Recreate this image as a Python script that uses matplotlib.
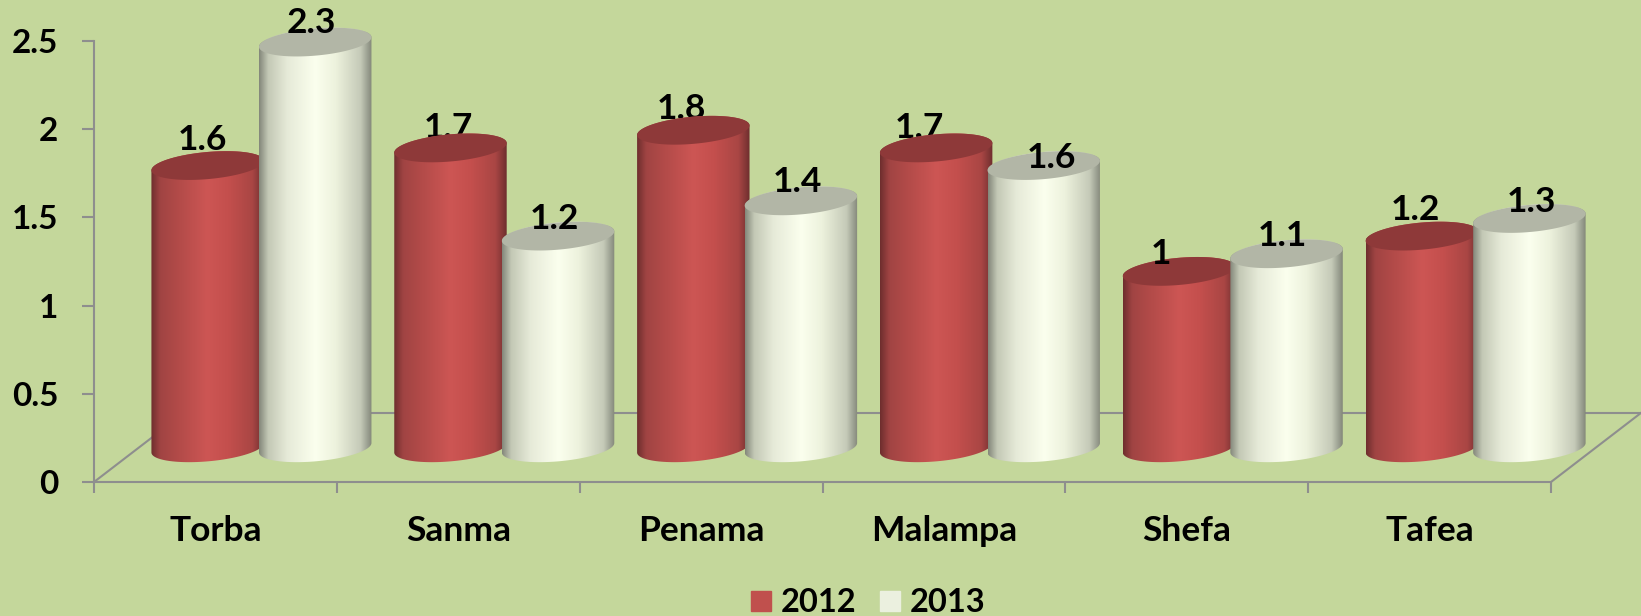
"""Torba to Tafea, 2012 vs 2013, as a 3D looking cylinder chart"""

import numpy as np
from matplotlib import pyplot as plt
from matplotlib.patches import Patch, PathPatch
from matplotlib.path import Path

provinces = ["Torba", "Sanma", "Penama", "Malampa", "Shefa", "Tafea"]
years = ["2012", "2013"]
values_2012 = [1.6, 1.7, 1.8, 1.7, 1, 1.2]
values_2013 = [2.3, 1.2, 1.4, 1.6, 1.1, 1.3]
y_ticks = [0, 0.5, 1, 1.5, 2, 2.5]
y_tick_labels = ["0", "0.5", "1", "1.5", "2", "2.5"]

BACKGROUND = "#C4D79B"
AXIS_COLOR = "#8E8E8E"
RED_STOPS = ["#6E2E2E", "#A04443", "#B34B49", "#CD5654", "#C44F4D", "#A94644", "#6E2E2E"]
WHITE_STOPS = ["#83877A", "#C3C8B5", "#E6EAD8", "#FBFFEE", "#EDF2DD", "#C5CAB8", "#83877A"]
STOP_POS = [0.0, 0.08, 0.25, 0.5, 0.68, 0.9, 1.0]

# floor depth, in data units
DEPTH_X = 0.37
DEPTH_Y = 0.391
BASE_Y = 0.194

# cylinder shape, in data units
RADIUS = 0.2315
MINOR = 0.077
TILT = 0.027
OFFSETS = [0.468, 0.911]

# data labels are not placed evenly in the original, nudges in points
LABEL_NUDGES = [
    [(-1, 2), (1.5, -2), (-6, -1), (-9, -2), (-10.5, -4), (-2, 2)],
    [(0, -3), (0, -4), (0, -3), (8, -11), (0, -4), (4.5, -4.5)],
]
# these three are cut off by the top of their own bar
LABELS_BEHIND = [(1, 0), (2, 0), (3, 0)]

plt.rcParams["font.family"] = ["Lato", "DejaVu Sans"]
plt.rcParams["font.weight"] = "bold"


def hex_ramp(stops):
    """Horizontal colour ramp from hex stops, shape (1, 256, 3)"""
    rgb = np.array([[int(c[i : i + 2], 16) / 255 for i in (1, 3, 5)] for c in stops])
    pos = np.linspace(0, 1, 256)
    return np.stack([np.interp(pos, STOP_POS, rgb[:, k]) for k in range(3)], axis=1)[
        None, :, :
    ]


def ellipse(center_x, center_y, angles):
    """Points on a tilted ellipse"""
    return (
        center_x + RADIUS * np.cos(angles),
        center_y + MINOR * np.sin(angles) + TILT * np.cos(angles),
    )


def plot_cylinder(axis, center_x, value, stops, top_color, zorder):
    """Draw one cylinder, standing on the floor, with a gradient body"""
    top_y = BASE_Y + value
    upper = ellipse(center_x, top_y, np.linspace(np.pi, 0, 60))
    lower = ellipse(center_x, BASE_Y, np.linspace(0, -np.pi, 60))
    outline = np.column_stack(
        [np.hstack([upper[0], lower[0]]), np.hstack([upper[1], lower[1]])]
    )
    image = axis.imshow(
        hex_ramp(stops),
        extent=(center_x - RADIUS, center_x + RADIUS, 0, top_y + MINOR + TILT),
        aspect="auto",
        interpolation="bilinear",
        zorder=zorder,
    )
    # the last bar runs past the right edge of the axes
    image.set_clip_box(axis.get_figure().bbox)
    image.set_clip_path(
        PathPatch(Path(np.vstack([outline, outline[:1]])), transform=axis.transData)
    )
    axis.fill(
        *ellipse(center_x, top_y, np.linspace(0, 2 * np.pi, 120)),
        color=top_color,
        lw=0,
        zorder=zorder + 0.1,
        clip_on=False,
    )


fig = plt.figure(figsize=(16.41, 6.16), dpi=100, facecolor=BACKGROUND)
axis = fig.add_axes([94 / 1641, (616 - 482) / 616, (1551 - 94) / 1641, 441 / 616])
axis.patch.set_alpha(0)

series = [
    (values_2012, RED_STOPS, "#8E3939"),
    (values_2013, WHITE_STOPS, "#B2B6A6"),
]
for i, province in enumerate(provinces):
    for j, (values, stops, top_color) in enumerate(series):
        center_x = i + OFFSETS[j]
        zorder = 5 + 2 * i + j
        plot_cylinder(axis, center_x, values[i], stops, top_color, zorder)
        axis.annotate(
            f"{values[i]:g}",
            (center_x - 0.016, BASE_Y + values[i] + 0.13),
            xytext=LABEL_NUDGES[j][i],
            textcoords="offset points",
            ha="center",
            va="center",
            fontsize=25.5,
            color="black",
            zorder=4 if (i, j) in LABELS_BEHIND else 30,
            annotation_clip=False,
        )

# floor outline
axis.plot([0, DEPTH_X], [0, DEPTH_Y], color=AXIS_COLOR, lw=1.5, zorder=1)
axis.plot([DEPTH_X, 6 + DEPTH_X], [DEPTH_Y, DEPTH_Y], color=AXIS_COLOR, lw=1.5, zorder=1, clip_on=False)
axis.plot([6, 6 + DEPTH_X], [0, DEPTH_Y], color=AXIS_COLOR, lw=1.5, zorder=1, clip_on=False)

axis.set_xlim(0, 6)
axis.set_ylim(0, 2.5)
for side in ("top", "right"):
    axis.spines[side].set_visible(False)
for side in ("left", "bottom"):
    axis.spines[side].set_color(AXIS_COLOR)
    axis.spines[side].set_linewidth(1.5)

axis.set_yticks(y_ticks, y_tick_labels)
axis.tick_params(axis="y", length=8.6, width=1.5, color=AXIS_COLOR, pad=17, labelsize=24)
axis.set_xticks(range(7), [""] * 7)
axis.set_xticks(np.arange(6) + 0.5, provinces, minor=True)
axis.tick_params(axis="x", which="major", length=8, width=1.5, color=AXIS_COLOR)
axis.tick_params(axis="x", which="minor", length=0, pad=24, labelsize=25.5)

fig.legend(
    handles=[
        Patch(color="#C0504D", label=years[0]),
        Patch(color="#EBF0DF", label=years[1]),
    ],
    loc="center",
    bbox_to_anchor=(868 / 1641, 13 / 616),
    ncol=2,
    frameon=False,
    fontsize=23.5,
    handlelength=0.61,
    handleheight=0.61,
    handletextpad=0.3,
    columnspacing=0.72,
    borderpad=0,
)

fig.savefig("out.png", facecolor=BACKGROUND)
